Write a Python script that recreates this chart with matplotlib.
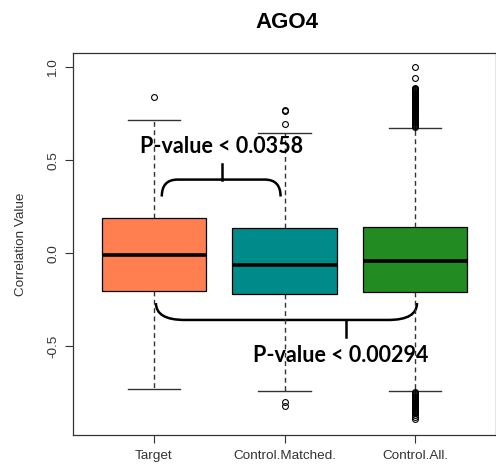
import numpy as np
import matplotlib.pyplot as plt
from matplotlib.path import Path
from matplotlib.patches import PathPatch

plt.rcParams['font.family'] = ['Liberation Sans', 'DejaVu Sans']

# Data
groups = ["Target", "Control.Matched.", "Control.All."]
colors = ["#FF7F50", "#008B8B", "#228B22"]
q1 = [-0.200, -0.219, -0.209]
med = [-0.010, -0.064, -0.043]
q3 = [0.187, 0.134, 0.140]
whislo = [-0.727, -0.738, -0.738]
whishi = [0.717, 0.647, 0.674]
outliers = [
    [0.84],
    [0.77, 0.765, 0.695, -0.80, -0.82],
    [1.00, 0.94, 0.89, 0.885, 0.88, 0.875, 0.87, 0.865, 0.86, 0.855, 0.85,
     0.845, 0.84, 0.835, 0.83, 0.825, 0.82, 0.815, 0.81, 0.805, 0.80, 0.795,
     0.79, 0.785, 0.78, 0.775, 0.77, 0.765, 0.76, 0.755, 0.75, 0.745, 0.74,
     0.735, 0.73, 0.725, 0.72, 0.715, 0.71, 0.705, 0.70, 0.695, 0.69, 0.685,
     0.68, -0.745, -0.75, -0.755, -0.76, -0.765, -0.77, -0.775, -0.78, -0.785,
     -0.79, -0.795, -0.80, -0.805, -0.81, -0.815, -0.82, -0.825, -0.83, -0.835,
     -0.84, -0.845, -0.85, -0.855, -0.86, -0.87, -0.88, -0.89],
]
pvals = ["P-value < 0.0358", "P-value < 0.00294"]

fig = plt.figure(figsize=(4.96, 4.67), dpi=100)
ax = fig.add_axes([73 / 496, 1 - 435 / 467, 423 / 496, (435 - 53) / 467])

stats = []
for i in range(len(groups)):
    stats.append(dict(label=groups[i], q1=q1[i], med=med[i], q3=q3[i],
                      whislo=whislo[i], whishi=whishi[i], fliers=outliers[i]))

bp = ax.bxp(stats, positions=[1, 2, 3], widths=0.8, patch_artist=True,
            showfliers=True,
            boxprops=dict(edgecolor="black", linewidth=0.9),
            medianprops=dict(color="black", linewidth=2.6, solid_capstyle="butt"),
            whiskerprops=dict(color="#333333", linewidth=1.0, linestyle=(0, (3.5, 2.5))),
            capprops=dict(color="#333333", linewidth=1.0),
            flierprops=dict(marker="o", markersize=4.2, markerfacecolor="none",
                            markeredgecolor="black", markeredgewidth=0.8))
for patch, c in zip(bp["boxes"], colors):
    patch.set_facecolor(c)
for cap in bp["caps"]:
    x = cap.get_xdata()
    mid = (x[0] + x[1]) / 2
    cap.set_xdata([mid - 0.2, mid + 0.2])

ax.set_xlim(0.38, 3.62)
ax.set_ylim(-0.976, 1.076)
ax.set_yticks([-0.5, 0.0, 0.5, 1.0])
ax.set_yticklabels(["-0.5", "0.0", "0.5", "1.0"], rotation=90, va="center")
ax.tick_params(axis="both", direction="out", length=5.8, width=0.8,
               labelsize=9.7, colors="#333333")
ax.tick_params(axis="y", pad=4)
ax.tick_params(axis="x", pad=5)
for s in ax.spines.values():
    s.set_linewidth(0.9)
    s.set_color("#333333")
ax.set_ylabel("Correlation Value", fontsize=9.7, color="#333333", labelpad=15)
fig.text(287 / 496, 1 - 23 / 467, "AGO4", ha="center", va="center",
         fontsize=16, fontweight="bold")


def bracket(x0, x1, y_end, y_h, xc, y_tick, dx):
    verts = [(x0, y_end), (x0, y_h), (x0 + dx, y_h),
             (x1 - dx, y_h), (x1, y_h), (x1, y_end)]
    codes = [Path.MOVETO, Path.CURVE3, Path.CURVE3,
             Path.LINETO, Path.CURVE3, Path.CURVE3]
    ax.add_patch(PathPatch(Path(verts, codes), fill=False, lw=1.8, color="black"))
    ax.plot([xc, xc], [y_h, y_tick], color="black", lw=1.8)


bracket(1.06, 1.97, 0.305, 0.396, 1.52, 0.48, 0.12)
bracket(1.015, 3.015, -0.267, -0.358, 2.47, -0.449, 0.22)
ax.text(1.52, 0.572, pvals[0], ha="center", va="center", fontsize=15.5,
        fontweight="bold", family="Lato")
ax.text(2.43, -0.55, pvals[1], ha="center", va="center", fontsize=15.5,
        fontweight="bold", family="Lato")

fig.savefig("out.png", dpi=100)
